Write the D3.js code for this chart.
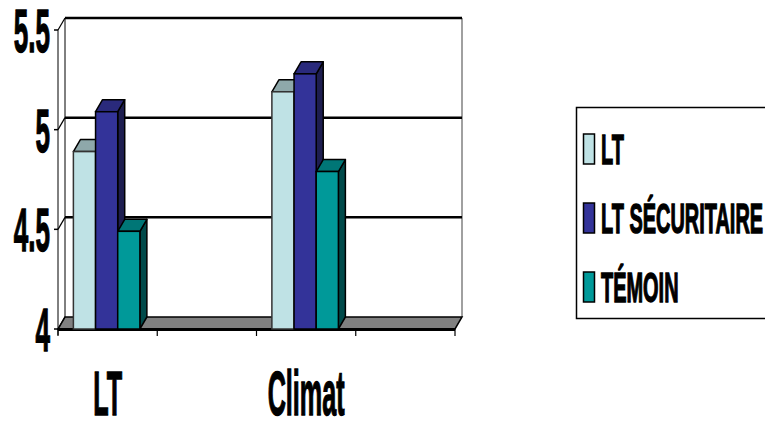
<!DOCTYPE html>
<html lang="en">
<head>
    <meta charset="UTF-8">
    <title>LT / Climat</title>
    <script src="https://d3js.org/d3.v7.min.js"></script>
    <style>
        body {
            margin: 0;
            padding: 0;
            background: #fff;
        }
        svg {
            display: block;
            font-family: "Liberation Sans", Arial, sans-serif;
            font-weight: bold;
        }
        .lbl {
            fill: #000;
            stroke: #000;
            stroke-width: 1.4;
        }
    </style>
</head>
<body>
    <svg width="765" height="421"></svg>

    <script>
        // Data
        const categories = ["LT", "", "Climat", ""];
        const seriesNames = ["LT", "LT SÉCURITAIRE", "TÉMOIN"];
        const ltValues = [4.89, null, 5.19, null];
        const securitaireValues = [5.09, null, 5.28, null];
        const temoinValues = [4.49, null, 4.79, null];
        const yTicks = [4, 4.5, 5, 5.5];
        const yTickLabels = ["4", "4.5", "5", "5.5"];

        const seriesValues = [ltValues, securitaireValues, temoinValues];

        // front face, top face, side face colours
        const colors = [
            { front: "#bfe2e5", top: "#8ea8aa", side: "#6a8a8c", stroke: "#333" },
            { front: "#333399", top: "#2a2a7c", side: "#1e1e50", stroke: "#000" },
            { front: "#009999", top: "#007676", side: "#004a4a", stroke: "#000" }
        ];

        const svg = d3.select("svg");

        // 3D depth offset (back plane = front plane + (dx, -dy))
        const dx = 7, dy = 12;

        // front plane scales
        const x = d3.scaleBand()
            .domain(d3.range(categories.length))
            .range([58, 455])
            .padding(0);

        const y = d3.scaleLinear()
            .domain([4, 5.5])
            .range([329, 30]);

        const bw = x.bandwidth();
        const xInner = d3.scaleBand()
            .domain(seriesNames)
            .range([bw * 0.155, bw * 0.825])
            .padding(0);

        const x0 = x.range()[0], x1 = x.range()[1];

        // Back wall
        svg.append("rect")
            .attr("x", x0 + dx)
            .attr("y", y(5.5) - dy)
            .attr("width", x1 - x0)
            .attr("height", y(4) - y(5.5))
            .attr("fill", "#fff");

        // Right edge of back wall
        svg.append("line")
            .attr("x1", x1 + dx).attr("x2", x1 + dx)
            .attr("y1", y(5.5) - dy).attr("y2", y(4) - dy)
            .attr("stroke", "#808080")
            .attr("stroke-width", 1.5);

        // Left side wall: front and back edges
        svg.append("line")
            .attr("x1", x0).attr("x2", x0)
            .attr("y1", y(5.5)).attr("y2", y(4) + 6)
            .attr("stroke", "#000").attr("stroke-width", 1);
        svg.append("line")
            .attr("x1", x0 + dx).attr("x2", x0 + dx)
            .attr("y1", y(5.5) - dy).attr("y2", y(4) - dy)
            .attr("stroke", "#000").attr("stroke-width", 1);

        // Gridlines (back wall) and side wall diagonals
        yTicks.forEach(t => {
            if (t > 4) {
                svg.append("line")
                    .attr("x1", x0 + dx).attr("x2", x1 + dx)
                    .attr("y1", y(t) - dy).attr("y2", y(t) - dy)
                    .attr("stroke", "#000")
                    .attr("stroke-width", 2.5);
            }
            svg.append("line")
                .attr("x1", x0).attr("x2", x0 + dx)
                .attr("y1", y(t)).attr("y2", y(t) - dy)
                .attr("stroke", "#000").attr("stroke-width", 1.2);
            // small tick on the value axis
            svg.append("line")
                .attr("x1", x0 - 4).attr("x2", x0)
                .attr("y1", y(t)).attr("y2", y(t))
                .attr("stroke", "#000").attr("stroke-width", 1.5);
        });

        // Floor
        svg.append("path")
            .attr("d", `M${x0},${y(4)} L${x1},${y(4)} L${x1 + dx},${y(4) - dy} L${x0 + dx},${y(4) - dy} Z`)
            .attr("fill", "#808080")
            .attr("stroke", "#000")
            .attr("stroke-width", 1.5);
        svg.append("line")
            .attr("x1", x0).attr("x2", x1)
            .attr("y1", y(4) + 0.5).attr("y2", y(4) + 0.5)
            .attr("stroke", "#000")
            .attr("stroke-width", 3);

        // Category axis ticks
        const tickXs = d3.range(categories.length + 1).map(i => x0 + i * bw);
        svg.selectAll(".xtick")
            .data(tickXs)
            .join("line")
            .attr("class", "xtick")
            .attr("x1", d => d).attr("x2", d => d)
            .attr("y1", y(4)).attr("y2", y(4) + 7)
            .attr("stroke", "#000")
            .attr("stroke-width", 1.2);

        // Bars (drawn series by series so each covers the previous side face)
        categories.forEach((cat, ci) => {
            seriesNames.forEach((s, si) => {
                const v = seriesValues[si][ci];
                if (v == null) return;
                const c = colors[si];
                const bx0 = x(ci) + xInner(s);
                const bx1 = bx0 + xInner.bandwidth();
                const by = y(v);
                const by0 = y(4);
                const g = svg.append("g");
                // side face
                g.append("path")
                    .attr("d", `M${bx1},${by} L${bx1 + dx},${by - dy} L${bx1 + dx},${by0 - dy} L${bx1},${by0} Z`)
                    .attr("fill", c.side)
                    .attr("stroke", "#000").attr("stroke-width", 1.5)
                    .attr("stroke-linejoin", "round");
                // top face
                g.append("path")
                    .attr("d", `M${bx0},${by} L${bx0 + dx},${by - dy} L${bx1 + dx},${by - dy} L${bx1},${by} Z`)
                    .attr("fill", c.top)
                    .attr("stroke", "#000").attr("stroke-width", 1.5)
                    .attr("stroke-linejoin", "round");
                // front face
                g.append("rect")
                    .attr("x", bx0).attr("y", by)
                    .attr("width", bx1 - bx0)
                    .attr("height", by0 - by)
                    .attr("fill", c.front)
                    .attr("stroke", c.stroke).attr("stroke-width", 1.5);
            });
        });

        // Value axis labels (tall condensed bold)
        yTicks.forEach((t, i) => {
            svg.append("g")
                .attr("transform", `translate(50, ${y(t) + 22}) scale(0.42, 1)`)
                .append("text")
                .attr("class", "lbl")
                .attr("text-anchor", "end")
                .attr("font-size", 62)
                .text(yTickLabels[i]);
        });

        // Category labels
        categories.forEach((cat, ci) => {
            if (!cat) return;
            svg.append("g")
                .attr("transform", `translate(${x(ci) + bw / 2}, 415) scale(0.40, 1)`)
                .append("text")
                .attr("class", "lbl")
                .attr("text-anchor", "middle")
                .attr("font-size", 63)
                .text(cat);
        });

        // Legend
        const legend = svg.append("g");
        legend.append("rect")
            .attr("x", 576.5).attr("y", 107.5)
            .attr("width", 200).attr("height", 211)
            .attr("fill", "#fff")
            .attr("stroke", "#000")
            .attr("stroke-width", 1.5);

        const legendY = d3.scalePoint()
            .domain(seriesNames)
            .range([149, 287]);

        seriesNames.forEach((s, si) => {
            const cy = legendY(s);
            legend.append("rect")
                .attr("x", 583.5).attr("y", cy - 15)
                .attr("width", 11).attr("height", 30)
                .attr("fill", colors[si].front)
                .attr("stroke", "#000")
                .attr("stroke-width", 1.5);
            legend.append("g")
                .attr("transform", `translate(601, ${cy + 15}) scale(0.475, 1)`)
                .append("text")
                .attr("class", "lbl")
                .attr("font-size", 42)
                .attr("stroke-width", 1)
                .text(s);
        });
    </script>
</body>
</html>
